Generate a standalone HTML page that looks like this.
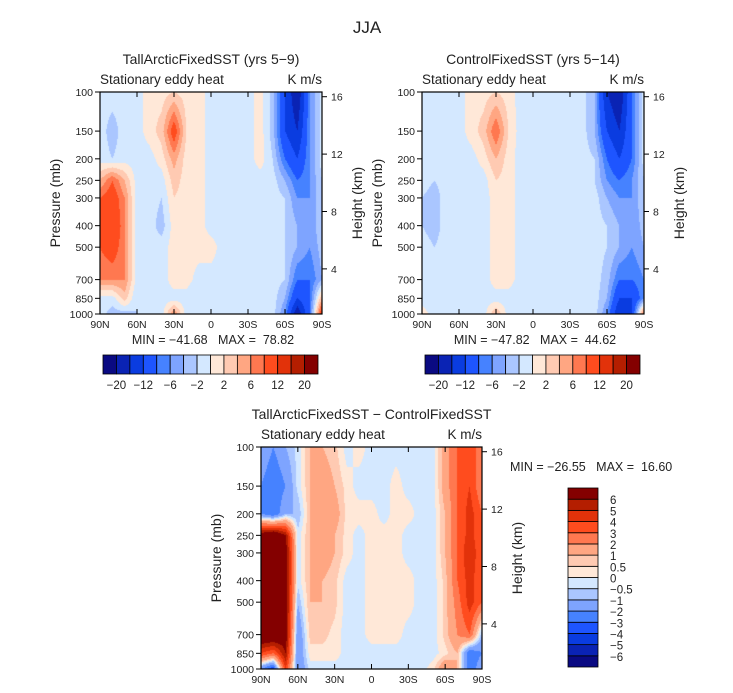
<!DOCTYPE html>
<html><head><meta charset="utf-8">
<style>
html,body{margin:0;padding:0;background:#fff;}
#root{position:relative;width:733px;height:693px;overflow:hidden;font-family:"Liberation Sans",sans-serif;}
canvas{position:absolute;}
svg{position:absolute;left:0;top:0;}
text{font-family:"Liberation Sans",sans-serif;fill:#222;white-space:pre;}
</style></head>
<body>
<div id="root">
<canvas id="c1"></canvas>
<canvas id="c2"></canvas>
<canvas id="c3"></canvas>
<svg id="svg" width="733" height="693"></svg>
</div>
<script>
// ---------- data ----------
const lats = [90,80,70,60,50,40,30,20,10,0,-10,-20,-30,-40,-50,-60,-70,-80,-90];
const pLevels = [100,150,200,250,300,400,500,700,850,1000];
const pTickLabels = [100,150,200,250,300,400,500,700,850,1000];
const latTicks = [90,60,30,0,-30,-60,-90];
const latTickLabels = ["90N","60N","30N","0","30S","60S","90S"];
const heightTicks = [4,8,12,16];
const levelsTop = [-20,-16,-12,-8,-6,-4,-2,0,2,4,6,8,12,16,20];
const levelsTopLabels = ["-20","","-12","","-6","","-2","","2","","6","","12","","20"];
const levelsDiff = [-6,-5,-4,-3,-2,-1,-0.5,0,0.5,1,2,3,4,5,6];
const levelsDiffLabels = ["-6","-5","-4","-3","-2","-1","-0.5","0","0.5","1","2","3","4","5","6"];
const palette = ["#0a0a82","#0a23b4","#0a3ce0","#1e55ff","#4682ff","#7ea4ff","#aac6ff","#d4e8ff",
                 "#ffe8d8","#ffcab2","#ffa682","#ff7850","#ff4c1e","#e2320a","#b41e00","#840000"];
const fieldTall = [
[-1,-1,-1,-1,1,1,2,1,1,-1,-1,-1,-1,1,-3,-12,-20,-6,-1],
[-1,-3,-1,-1,1,3,10,2,1,-1,-1,-1,-1,1,-3,-12,-16,-6,-1],
[-1,-2,-1,-1,-1,1,5,1,1,-1,-1,-1,-1,1,-2,-8,-12,-6,-1],
[4,8,4,-1,-1,-1,3,1,1,-1,-1,-1,-1,-1,-1,-4,-8,-6,-2],
[8,10,6,-1,-1,-2,2,1,1,-1,-1,-1,-1,-1,-1,-2,-6,-6,-2],
[8,12,6,-1,-1,-3,1,1,1,-1,-1,-1,-1,-1,-1,-2,-4,-6,-2],
[8,10,6,-1,-1,-1,1,1,1,1,-1,-1,-1,-1,-1,-2,-4,-6,-3],
[6,6,6,-1,-1,-1,1,1,-1,-1,-1,-1,-1,-1,-1,-2,-8,-8,-4],
[-1,-1,3,-2,-1,-1,-1,-1,-2,-1,-1,-1,-1,-1,-1,-4,-12,-8,4],
[-1,-3,-3,-2,-1,-1,6,-1,-1,-1,-1,-1,-1,-1,-1,-6,-20,-8,12]];
const fieldControl = [
[-1,-1,-1,-1,1,1,2,1,-1,-1,-1,-1,-1,-1,-4,-16,-20,-8,-1],
[-1,-2,-1,-1,1,3,8,2,-1,-1,-1,-1,-1,-1,-4,-12,-16,-8,-1],
[-1,-2,-1,-1,-1,1,4,1,-1,-1,-1,-1,-1,-1,-2,-8,-12,-8,-1],
[-1,-2,-1,-1,-1,-1,2,1,-1,-1,-1,-1,-1,-1,-2,-6,-8,-6,-2],
[-2,-3,-1,-1,-1,-1,1,1,-1,-1,-1,-1,-1,-1,-1,-4,-6,-6,-2],
[-2,-3,-1,-1,-2,-1,1,1,-1,-1,-1,-1,-1,-1,-1,-2,-4,-6,-3],
[-1,-2,-1,-1,-1,-1,1,1,-1,-1,-1,-1,-1,-1,-1,-2,-4,-6,-4],
[-1,-1,-1,-2,-1,-1,1,1,-1,-1,-1,-1,-1,-1,-1,-3,-8,-8,-6],
[-1,-1,-1,-1,-1,-1,-1,-1,-1,-1,-1,-1,-1,-1,-1,-4,-12,-12,-6],
[1,-1,-1,-1,-1,-1,4,-1,-1,-1,-1,-1,-1,-1,-1,-6,-16,-12,8]];
const fieldDiff = [
[-1,-2,-1,-0.3,1,1,0.7,-0.3,0.3,-0.3,-0.3,-0.3,-0.3,-0.3,-0.3,1.5,3,4,2],
[-2,-3,-2,-0.3,1,1.5,1,0.3,-0.3,-0.3,-0.3,0.3,-0.3,-0.3,-0.3,1.5,3,4,2],
[-2,-3,-1,-1,1,2,1.5,0.3,0.3,0.3,-0.3,0.3,0.3,-0.3,-0.3,1,3,4.5,3],
[7,8,6,-0.3,1,1.5,1,0.3,-0.3,0.3,0.3,0.3,-0.3,-0.3,-0.3,1,3,4.5,3],
[8,8,7,-0.3,1,1.5,1,0.3,-0.3,0.3,0.3,0.3,-0.3,-0.3,-0.3,1,3,5,3],
[8,8,7,-0.3,1,1,0.7,-0.3,-0.3,0.3,0.3,0.3,0.3,-0.3,-0.3,0.7,3,4.5,3],
[8,8,7,-1,1,1,0.7,-0.3,-0.3,0.3,0.3,0.3,0.3,-0.3,-0.3,0.7,2.5,4.5,3],
[8,8,7,-2,0.7,0.7,0.3,-0.3,-0.3,0.3,0.3,0.3,-0.3,-0.3,-0.3,0.7,2,3,-1],
[4,3,6,-2,0.3,0.3,0.3,-0.3,-0.3,-0.3,-0.3,-0.3,-0.3,-0.3,-0.3,0.3,1,-3,-2],
[-2,-4,4,-2,-0.3,-0.3,-0.3,-0.3,-0.3,-0.3,-0.3,-0.3,-0.3,-0.3,0.3,2,1,-3,-1]];

// ---------- helpers ----------
const svg = document.getElementById('svg');
const NS = 'http://www.w3.org/2000/svg';
function mk(tag, attrs, parent){
  const e = document.createElementNS(NS, tag);
  for (const k in attrs) e.setAttribute(k, attrs[k]);
  (parent||svg).appendChild(e);
  return e;
}
function txt(x,y,s,size,anchor,name,rot){
  const t = mk('text',{x:x,y:y,'font-size':size,'text-anchor':anchor||'middle'});
  if (rot) t.setAttribute('transform','rotate(-90 '+x+' '+y+')');
  t.setAttribute('xml:space','preserve');
  t.textContent = s;
  
  
  return t;
}
function colorFor(v, levels){
  let i = 0;
  while (i < levels.length && v >= levels[i]) i++;
  return palette[i];
}
function sample(field, lat, lp){
  let fx = (90 - lat) / 10; fx = Math.max(0, Math.min(lats.length-1-1e-9, fx));
  const i0 = Math.floor(fx), tx = fx - i0;
  const lps = pLevels.map(p => Math.log10(p));
  let j0 = 0;
  while (j0 < lps.length-2 && lp > lps[j0+1]) j0++;
  let ty = (lp - lps[j0]) / (lps[j0+1] - lps[j0]); ty = Math.max(0, Math.min(1, ty));
  const a = field[j0][i0], b = field[j0][i0+1], c = field[j0+1][i0], d = field[j0+1][i0+1];
  return (a*(1-tx)+b*tx)*(1-ty) + (c*(1-tx)+d*tx)*ty;
}

function panel(cfg){
  const {x0,y0,w,h,field,levels,canvasId,key} = cfg;
  const xS = lat => x0 + (90 - lat) / 180 * w;
  const yS = p => y0 + (Math.log10(p) - 2) * h;
  const cv = document.getElementById(canvasId);
  cv.width = w; cv.height = h;
  cv.style.left = x0 + 'px'; cv.style.top = y0 + 'px';
  const ctx = cv.getContext('2d');
  const img = ctx.createImageData(w, h);
  for (let py = 0; py < h; py++){
    const lp = 2 + (py + 0.5) / h;
    for (let px = 0; px < w; px++){
      const lat = 90 - (px + 0.5) / w * 180;
      const v = sample(field, lat, lp);
      const col = colorFor(v, levels);
      const k = (py*w+px)*4;
      img.data[k] = parseInt(col.substr(1,2),16);
      img.data[k+1] = parseInt(col.substr(3,2),16);
      img.data[k+2] = parseInt(col.substr(5,2),16);
      img.data[k+3] = 255;
    }
  }
  ctx.putImageData(img, 0, 0);
  const g = mk('g', {});
  
  
  const frame = mk('rect',{x:x0,y:y0,width:w,height:h,fill:'none',stroke:'#000','stroke-width':1.2},g);
  
  
  latTicks.forEach((lat,i)=>{
    const x = xS(lat);
    mk('line',{x1:x,y1:y0+h,x2:x,y2:y0+h-5,stroke:'#000'},g);
    mk('line',{x1:x,y1:y0,x2:x,y2:y0+5,stroke:'#000'},g);
    txt(x, y0+h+14, latTickLabels[i], 10.5, 'middle', key+'-x-tick-label');
  });
  pTickLabels.forEach(p=>{
    const y = yS(p);
    mk('line',{x1:x0,y1:y,x2:x0-5,y2:y,stroke:'#000'},g);
    txt(x0-7, y+4, String(p), 10.5, 'end', key+'-pressure-tick-label');
  });
  heightTicks.forEach(z=>{
    const lp = 3 - (z - 0.855) / 6.72 / Math.LN10;
    const y = y0 + (lp - 2) * h;
    mk('line',{x1:x0+w,y1:y,x2:x0+w+5,y2:y,stroke:'#000'},g);
    txt(x0+w+9, y+4, String(z), 10.5, 'start', key+'-height-tick-label');
  });
  txt(x0-40, y0+h/2, 'Pressure (mb)', 14, 'middle', key+'-y-axis-title', true);
  txt(x0+w+40, y0+h/2, 'Height (km)', 14, 'middle', key+'-right-axis-title', true);
  txt(x0, y0-8, 'Stationary eddy heat', 13.5, 'start', key+'-subtitle-left');
  txt(x0+w, y0-8, 'K m/s', 13.5, 'end', key+'-units');
  txt(x0+w/2, y0-28, cfg.title, 14, 'middle', key+'-title');
}

function colorbarH(x0,y0,w,h,levels,labels,key){
  const n = palette.length, bw = w/n;
  for (let i=0;i<n;i++){
    const r = mk('rect',{x:x0+i*bw,y:y0,width:bw,height:h,fill:palette[i],stroke:'#000','stroke-width':0.8});
    
    
  }
  levels.forEach((lv,i)=>{
    if (labels[i]) txt(x0+(i+1)*bw, y0+h+15, labels[i].replace('-','\u2212'), 11.5, 'middle', key+'-colorbar-label');
  });
}
function colorbarV(x0,y0,w,h,levels,labels,key){
  const n = palette.length, bh = h/n;
  for (let i=0;i<n;i++){
    const r = mk('rect',{x:x0,y:y0+h-(i+1)*bh,width:w,height:bh,fill:palette[i],stroke:'#000','stroke-width':0.8});
    
    
  }
  levels.forEach((lv,i)=>{
    txt(x0+w+12, y0+h-(i+1)*bh+5, labels[i].replace('-','\u2212'), 11.5, 'start', key+'-colorbar-label');
  });
}

txt(367, 33, 'JJA', 17, 'middle', 'figure-title');
panel({x0:100,y0:92,w:222,h:222,field:fieldTall,levels:levelsTop,canvasId:'c1',key:'tall-arctic',title:'TallArcticFixedSST (yrs 5\u22129)'});
panel({x0:422,y0:92,w:222,h:222,field:fieldControl,levels:levelsTop,canvasId:'c2',key:'control',title:'ControlFixedSST (yrs 5\u221214)'});
panel({x0:261,y0:447,w:221,h:222,field:fieldDiff,levels:levelsDiff,canvasId:'c3',key:'difference',title:'TallArcticFixedSST \u2212 ControlFixedSST'});
txt(213, 344, 'MIN = \u221241.68   MAX =  78.82', 12.5, 'middle', 'tall-arctic-min-max');
txt(535, 344, 'MIN = \u221247.82   MAX =  44.62', 12.5, 'middle', 'control-min-max');
txt(510, 471, 'MIN = \u221226.55   MAX =  16.60', 12.5, 'start', 'difference-min-max');
colorbarH(103,355,215,19,levelsTop,levelsTopLabels,'tall-arctic');
colorbarH(425,355,215,19,levelsTop,levelsTopLabels,'control');
colorbarV(568,488,30,179,levelsDiff,levelsDiffLabels,'difference');
</script>
</body></html>
